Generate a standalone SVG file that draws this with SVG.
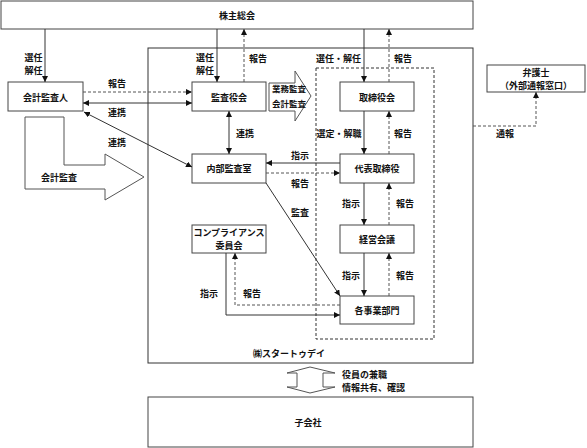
<svg xmlns="http://www.w3.org/2000/svg" width="587" height="448" viewBox="0 0 587 448">
<defs>
<style>
text{font-family:"Noto Sans CJK JP","Noto Sans CJK SC",sans-serif;font-size:9px;font-weight:bold;fill:#111;text-anchor:middle;dominant-baseline:central}
.box{fill:#fff;stroke:#444;stroke-width:1}
.frame{fill:none;stroke:#333;stroke-width:1}
.dbox{fill:none;stroke:#333;stroke-width:1;stroke-dasharray:3,2}
.s{fill:none;stroke:#333;stroke-width:1}
.d{fill:none;stroke:#555;stroke-width:1;stroke-dasharray:3,2}
.big{fill:#fff;stroke:#555;stroke-width:1}
.l{text-anchor:start}
</style>
<marker id="ah" viewBox="0 0 10 10" refX="10" refY="5" markerWidth="6" markerHeight="6" markerUnits="userSpaceOnUse" orient="auto-start-reverse">
<path d="M0,0 L10,5 L0,10 Z" fill="#111"/>
</marker>
</defs>

<g id="shareholders"><rect class="box" x="1" y="1" width="472" height="28"/><text x="237" y="15">株主総会</text></g>
<g id="company"><rect class="frame" x="148" y="48" width="325" height="315"/><text x="289" y="353">㈱スタートゥデイ</text></g>
<g id="board-area"><rect class="dbox" x="316" y="68" width="118" height="271"/></g>
<g id="auditor"><rect class="box" x="8" y="82" width="75" height="29"/><text x="45.5" y="97">会計監査人</text></g>
<g id="kansayaku"><rect class="box" x="192" y="82" width="74" height="29"/><text x="229" y="97">監査役会</text></g>
<g id="torishimariyaku"><rect class="box" x="340" y="82" width="74" height="29"/><text x="377" y="97">取締役会</text></g>
<g id="naibu"><rect class="box" x="192" y="154" width="74" height="29"/><text x="229" y="168">内部監査室</text></g>
<g id="daihyo"><rect class="box" x="340" y="154" width="74" height="29"/><text x="377" y="168">代表取締役</text></g>
<g id="keiei"><rect class="box" x="340" y="225" width="74" height="28"/><text x="377" y="239">経営会議</text></g>
<g id="compliance"><rect class="box" x="192" y="225" width="74" height="28"/><text x="229" y="232.5">コンプライアンス</text><text x="229" y="245.5">委員会</text></g>
<g id="jigyo"><rect class="box" x="340" y="296" width="74" height="28"/><text x="377" y="310">各事業部門</text></g>
<g id="lawyer"><rect class="box" x="487" y="65" width="98" height="27"/><text x="536" y="72">弁護士</text><text x="536" y="85.5">（外部通報窓口）</text></g>
<g id="subsidiary"><rect class="box" x="148" y="397" width="325" height="50"/><text x="308" y="422">子会社</text></g>

<g id="kaikei-arrow"><polygon class="big" points="25,117 64,117 64,165 105,165 105,154 144,177 105,200 105,189 25,189"/><text x="59" y="177">会計監査</text></g>
<g id="gyomu-arrow"><polygon class="big" points="269,83 295,83 295,71 311,96 295,121 295,111 269,111"/><text x="289" y="88" style="font-size:8.5px">業務監査</text><text x="289" y="103" style="font-size:8.5px">会計監査</text></g>
<g id="group-arrow"><polygon class="big" points="310,367 335,373 323,373 323,387 335,387 310,393 287,387 297,387 297,373 287,373"/><text class="l" x="342" y="374">役員の兼職</text><text class="l" x="342" y="387">情報共有、確認</text></g>

<g id="connectors">
<line class="s" x1="45" y1="29" x2="45" y2="82" marker-end="url(#ah)"/>
<line class="s" x1="217" y1="29" x2="217" y2="82" marker-end="url(#ah)"/>
<line class="d" x1="244" y1="82" x2="244" y2="29" marker-end="url(#ah)"/>
<line class="s" x1="364" y1="29" x2="364" y2="82" marker-end="url(#ah)"/>
<line class="d" x1="389" y1="82" x2="389" y2="29" marker-end="url(#ah)"/>
<line class="d" x1="83" y1="92" x2="192" y2="92" marker-end="url(#ah)"/>
<line class="s" x1="83" y1="103" x2="192" y2="103" marker-start="url(#ah)" marker-end="url(#ah)"/>
<line class="s" x1="84" y1="112" x2="192" y2="167" marker-start="url(#ah)" marker-end="url(#ah)"/>
<line class="s" x1="229" y1="111" x2="229" y2="154" marker-start="url(#ah)" marker-end="url(#ah)"/>
<line class="s" x1="364" y1="111" x2="364" y2="154" marker-end="url(#ah)"/>
<line class="d" x1="389" y1="154" x2="389" y2="111" marker-end="url(#ah)"/>
<line class="s" x1="340" y1="163" x2="266" y2="163" marker-end="url(#ah)"/>
<line class="d" x1="266" y1="173" x2="340" y2="173" marker-end="url(#ah)"/>
<line class="s" x1="266" y1="183" x2="340" y2="296" marker-end="url(#ah)"/>
<line class="s" x1="364" y1="183" x2="364" y2="225" marker-end="url(#ah)"/>
<line class="d" x1="389" y1="225" x2="389" y2="183" marker-end="url(#ah)"/>
<line class="s" x1="364" y1="253" x2="364" y2="296" marker-end="url(#ah)"/>
<line class="d" x1="389" y1="296" x2="389" y2="253" marker-end="url(#ah)"/>
<path class="d" d="M340,305 H235 V253" marker-end="url(#ah)"/>
<path class="s" d="M226,253 V315 H340" marker-end="url(#ah)"/>
<path class="d" d="M473,126 H536 V92" marker-end="url(#ah)"/>
</g>

<g id="labels">
<text x="33.5" y="57">選任</text><text x="33.5" y="70">解任</text>
<text x="205" y="57">選任</text><text x="205" y="70">解任</text>
<text x="258" y="58">報告</text>
<text x="117" y="83">報告</text>
<text x="117" y="112">連携</text>
<text x="117" y="142">連携</text>
<text x="245" y="133">連携</text>
<text x="338.5" y="58">選任・解任</text>
<text x="403" y="58">報告</text>
<text x="339" y="133">選定・解職</text>
<text x="403" y="133">報告</text>
<text x="505" y="133">通報</text>
<text x="300" y="155">指示</text>
<text x="300" y="183">報告</text>
<text x="300" y="212">監査</text>
<text x="351" y="203">指示</text>
<text x="405" y="203">報告</text>
<text x="351" y="275">指示</text>
<text x="405" y="275">報告</text>
<text x="209" y="293">指示</text>
<text x="252" y="293">報告</text>
</g>
</svg>
